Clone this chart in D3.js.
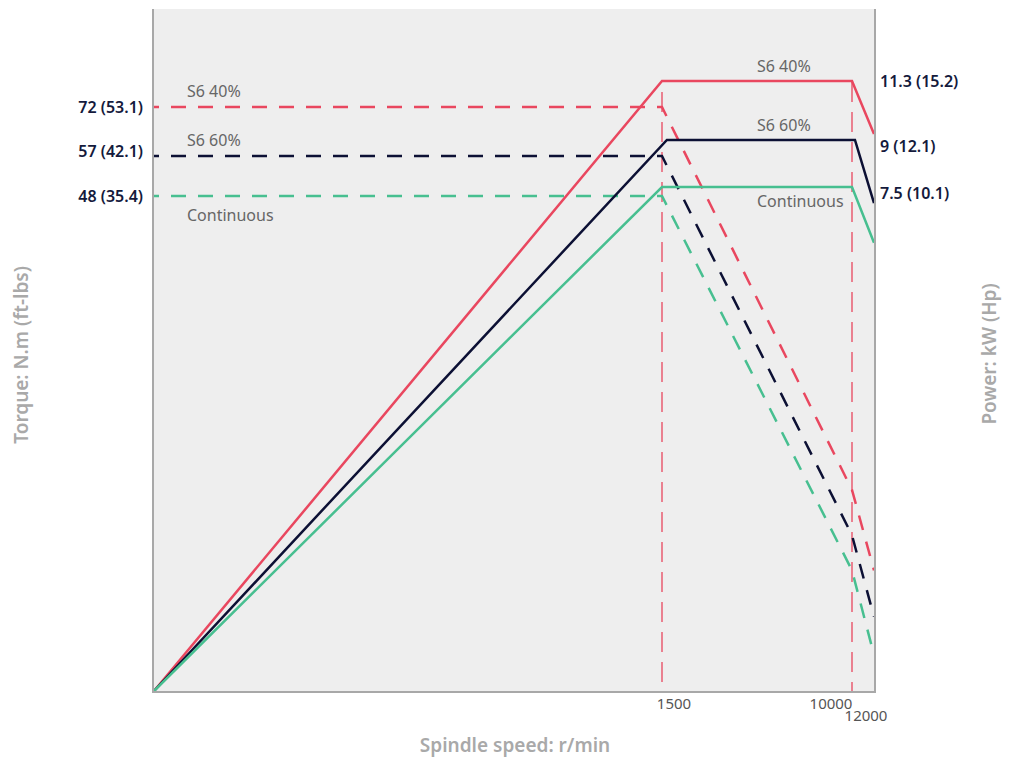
<!DOCTYPE html>
<html>
<head>
<meta charset="utf-8">
<script src="https://cdn.jsdelivr.net/npm/d3@7"></script>
<style>
  body { margin: 0; background: #fff; }
</style>
</head>
<body>
<div id="chart"></div>
<script>
// speed points (r/min) along the x axis
const speedTicks = [1500, 10000, 12000];
const speeds = [0, 1500, 10000, 12000];
const speedsS6_60 = [0, 1720, 10270, 12000];

// torque levels shown on the left (N.m, ft-lbs)
const torqueLevels = [72, 57, 48];
const torqueLabels = ["72 (53.1)", "57 (42.1)", "48 (35.4)"];
// power levels shown on the right (kW, Hp)
const powerLevels = [11.3, 9, 7.5];
const powerLabels = ["11.3 (15.2)", "9 (12.1)", "7.5 (10.1)"];

const seriesNames = ["S6 40%", "S6 60%", "Continuous"];
const colors = ["#e9475f", "#0c1034", "#47bf90"];

// torque curves (dashed)
const torqueS6_40 = [72, 72, 19.5, 11.7];
const torqueS6_60 = [57, 57, 15.1, 7.2];
const torqueCont = [48, 48, 11.7, 3.5];

// power curves (solid)
const powerS6_40 = [0, 11.3, 11.3, 9.23];
const powerS6_60 = [0, 9, 9, 7.26];
const powerCont = [0, 7.5, 7.5, 6.67];

const width = 1015;
const height = 758;
const margin = {top: 9, right: 141, bottom: 67, left: 154};

const svg = d3.select("#chart")
  .append("svg")
  .attr("width", width)
  .attr("height", height)
  .style("font-family", "'Noto Sans', sans-serif");

// the chart is schematic, so the scales are piecewise
const x = d3.scaleLinear()
  .domain([0, 1500, 10000, 12000])
  .range([margin.left, 662, 852, width - margin.right]);

const yTorque = d3.scaleLinear()
  .domain([0, 48, 57, 72])
  .range([height - margin.bottom, 196, 156, 107]);

const yPower = d3.scaleLinear()
  .domain([0, 7.5, 9, 11.3])
  .range([height - margin.bottom, 187, 140, 81]);

// background
svg.append("rect")
  .attr("x", margin.left)
  .attr("y", margin.top)
  .attr("width", width - margin.left - margin.right)
  .attr("height", height - margin.top - margin.bottom)
  .attr("fill", "#eeeeee");

// red dashed verticals at 1500 and 10000
svg.selectAll("line.vline")
  .data([1500, 10000])
  .enter()
  .append("line")
  .attr("class", "vline")
  .attr("x1", d => x(d))
  .attr("x2", d => x(d))
  .attr("y1", (d, i) => yPower(11.3) + (i === 0 ? 11 : 1))
  .attr("y2", yPower(0))
  .attr("stroke", colors[0])
  .attr("stroke-width", 1.3)
  .attr("stroke-dasharray", "20,10");

const torqueSeries = [torqueS6_40, torqueS6_60, torqueCont];
const powerSeries = [powerS6_40, powerS6_60, powerCont];
const powerSpeeds = [speeds, speedsS6_60, speeds];

const torqueLine = d3.line()
  .x(d => x(d[0]))
  .y(d => yTorque(d[1]));

const powerLine = d3.line()
  .x(d => x(d[0]))
  .y(d => yPower(d[1]));

// torque (dashed)
svg.selectAll("path.torque")
  .data(torqueSeries)
  .enter()
  .append("path")
  .attr("class", "torque")
  .attr("fill", "none")
  .attr("stroke", (d, i) => colors[i])
  .attr("stroke-width", 2.5)
  .attr("stroke-dasharray", "15,12")
  .attr("stroke-dashoffset", 10)
  .attr("d", d => torqueLine(d.map((v, j) => [speeds[j], v])));

// power (solid)
svg.selectAll("path.power")
  .data(powerSeries)
  .enter()
  .append("path")
  .attr("class", "power")
  .attr("fill", "none")
  .attr("stroke", (d, i) => colors[i])
  .attr("stroke-width", 2.5)
  .attr("stroke-linejoin", "miter")
  .attr("d", (d, i) => powerLine(d.map((v, j) => [powerSpeeds[i][j], v])));

// axis frame lines (left, right, bottom)
const frame = svg.append("g")
  .attr("stroke", "#a8a8a8")
  .attr("stroke-width", 2);
frame.append("line")
  .attr("x1", margin.left - 1).attr("x2", margin.left - 1)
  .attr("y1", margin.top).attr("y2", height - margin.bottom + 1);
frame.append("line")
  .attr("x1", width - margin.right + 1).attr("x2", width - margin.right + 1)
  .attr("y1", margin.top).attr("y2", height - margin.bottom + 1);
frame.append("line")
  .attr("x1", margin.left - 2).attr("x2", width - margin.right + 2)
  .attr("y1", height - margin.bottom + 1).attr("y2", height - margin.bottom + 1);

// x tick labels
svg.selectAll("text.xtick")
  .data(speedTicks)
  .enter()
  .append("text")
  .attr("class", "xtick")
  .attr("x", d => d === 1500 ? x(d) + 12 : (d === 10000 ? x(d) - 21 : x(d) - 8))
  .attr("y", d => d === 12000 ? height - margin.bottom + 30 : height - margin.bottom + 18)
  .attr("text-anchor", "middle")
  .attr("fill", "#555")
  .style("font-size", "15px")
  .text(d => d);

// left torque value labels
svg.selectAll("text.tlabel")
  .data(torqueLevels)
  .enter()
  .append("text")
  .attr("class", "tlabel")
  .attr("x", margin.left - 11)
  .attr("y", (d, i) => yTorque(d) + (i === 1 ? 1 : 6))
  .attr("text-anchor", "end")
  .attr("fill", "#141a3c")
  .style("font-size", "16px")
  .style("font-weight", 600)
  .text((d, i) => torqueLabels[i]);

// right power value labels
svg.selectAll("text.plabel")
  .data(powerLevels)
  .enter()
  .append("text")
  .attr("class", "plabel")
  .attr("x", width - margin.right + 6)
  .attr("y", (d, i) => yPower(d) + (i === 0 ? 6 : 12))
  .attr("text-anchor", "start")
  .attr("fill", "#141a3c")
  .style("font-size", "16px")
  .style("font-weight", 600)
  .text((d, i) => powerLabels[i]);

// series names next to the torque lines
svg.selectAll("text.tname")
  .data(seriesNames)
  .enter()
  .append("text")
  .attr("class", "tname")
  .attr("x", 187)
  .attr("y", (d, i) => yTorque(torqueLevels[i]) + (i === 2 ? 25 : -10))
  .attr("fill", "#666")
  .style("font-size", "16px")
  .text(d => d);

// series names next to the power lines
svg.selectAll("text.pname")
  .data(seriesNames)
  .enter()
  .append("text")
  .attr("class", "pname")
  .attr("x", 757)
  .attr("y", (d, i) => yPower(powerLevels[i]) + (i === 2 ? 20 : -9))
  .attr("fill", "#666")
  .style("font-size", "16px")
  .text(d => d);

// axis titles
svg.append("text")
  .attr("x", (margin.left + width - margin.right) / 2 + 1)
  .attr("y", 752)
  .attr("text-anchor", "middle")
  .attr("fill", "#a9a9a9")
  .style("font-size", "19px")
  .style("font-weight", 600)
  .text("Spindle speed: r/min");

svg.append("text")
  .attr("transform", "translate(28,355) rotate(-90)")
  .attr("text-anchor", "middle")
  .attr("fill", "#a9a9a9")
  .style("font-size", "19px")
  .style("font-weight", 600)
  .text("Torque: N.m (ft-lbs)");

svg.append("text")
  .attr("transform", "translate(996,354) rotate(-90)")
  .attr("text-anchor", "middle")
  .attr("fill", "#a9a9a9")
  .style("font-size", "19px")
  .style("font-weight", 600)
  .text("Power: kW (Hp)");
</script>
</body>
</html>
